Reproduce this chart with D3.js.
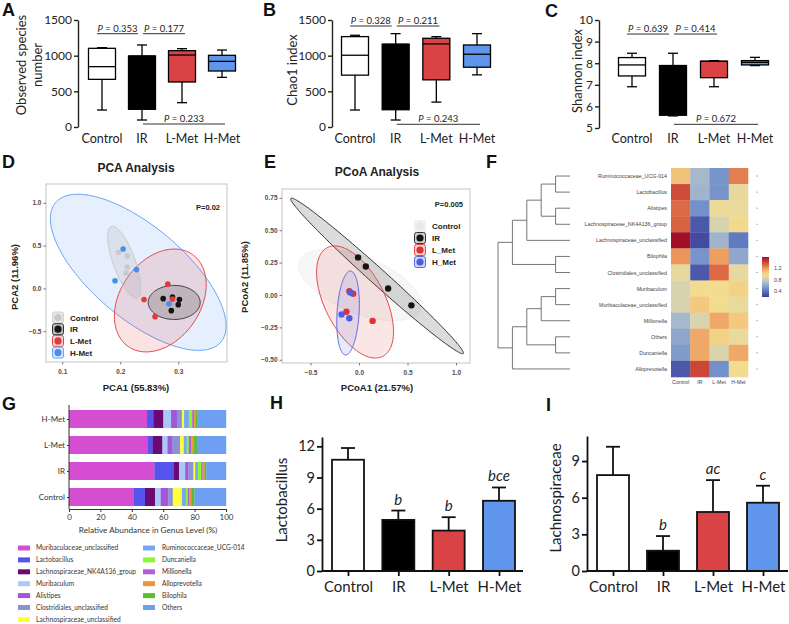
<!DOCTYPE html>
<html><head><meta charset="utf-8">
<script src="https://cdn.jsdelivr.net/npm/d3@7"></script>
<style>body{margin:0;background:#fff} svg text{font-family:Lato, "Open Sans", sans-serif}</style>
</head><body><svg id="c" width="789" height="624"></svg>
<script>
// ---------------- DATA ----------------
const groups = ["Control","IR","L-Met","H-Met"];
const groupFill = ["#ffffff","#000000","#d94345","#5f95ea"];
// box stats: [min, q1, median, q3, max]
const observedBox = [[238,668,846,1103,1112],[98,248,995,995,1150],[341,631,1009,1070,1098],[696,785,920,1005,1079]];
const chao1Box = [[238,727,1006,1267,1286],[98,242,1160,1160,1309],[349,661,1165,1244,1267],[731,838,1020,1150,1309]];
const shannonBox = [[6.91,7.41,7.92,8.26,8.46],[5.56,5.59,7.89,7.89,8.46],[6.91,7.33,8.09,8.09,8.12],[7.89,7.92,8.04,8.12,8.27]];
const observedP = ["0.353","0.177","0.233"];
const chao1P = ["0.328","0.211","0.243"];
const shannonP = ["0.639","0.414","0.672"];
const observedPY = [1308, 42];
const chao1PY = [1416, 38];
const shannonPY = [9.35, 5.17];
const observedTicks = [0,500,1000,1500];
const chao1Ticks = [0,500,1000,1500];
const shannonTicks = [5,6,7,8,9,10];

// PCA
const pcaControl = [[0.197,0.42],[0.212,0.38],[0.212,0.25],[0.21,0.18]];
const pcaIR = [[0.274,-0.12],[0.29,-0.10],[0.302,-0.13],[0.30,-0.19],[0.288,-0.26]];
const pcaLMet = [[0.282,0.05],[0.241,-0.13],[0.29,-0.125],[0.26,-0.33]];
const pcaHMet = [[0.205,0.46],[0.228,0.22],[0.191,0.09],[0.284,-0.18]];
// ellipses: [cx, cy, ux, uy, vx, vy] in data units
const pcaEllipses = [
  {g:"H-Met", e:[0.231,0.188,0.1426,-0.8136,-0.051,-0.4127]},
  {g:"L-Met", e:[0.269,-0.141,0.0553,0.538,0.0566,-0.268]},
  {g:"Control", e:[0.207,0.305,0.0224,-0.4185,-0.0178,-0.0445]},
  {g:"IR", e:[0.293,-0.164,0.0448,0,0,-0.199]}
];
// PCoA
const pcoaIR = [[-0.01,0.29],[0.07,0.22],[0.30,0.05],[0.54,-0.08]];
const pcoaLMet = [[-0.10,0.03],[-0.06,0.01],[-0.13,-0.13],[0.14,-0.20]];
const pcoaHMet = [[-0.09,0.02],[-0.18,-0.15],[-0.10,-0.18]];
const pcoaEllipses = [
  {g:"Control", e:[0.01,0.077,0.622,-0.1875,-0.108,-0.2006]},
  {g:"IR", e:[0.186,0.147,0.889,-0.599,-0.0552,-0.0459]},
  {g:"L-Met", e:[-0.041,-0.054,0.2856,-0.4198,-0.2753,-0.1049]},
  {g:"H-Met", e:[-0.113,-0.139,0.0258,0.324,0.1134,-0.0046]}
];

// Heatmap
const heatRows = ["Ruminococcaceae_UCG-014","Lactobacillus","Alistipes","Lachnospiraceae_NK4A136_group","Lachnospiraceae_unclassified","Bilophila","Clostridiales_unclassified","Muribaculum","Muribaculaceae_unclassified","Millionella","Others","Duncaniella","Alloprevotella"];
const heatValues = [
  [1.07,0.68,0.52,1.25],
  [1.38,0.66,0.52,0.92],
  [1.30,0.50,0.95,0.93],
  [1.32,0.30,0.84,1.00],
  [1.58,0.25,0.66,0.42],
  [1.20,0.52,1.18,0.60],
  [0.92,0.30,1.30,0.92],
  [0.84,0.98,0.98,1.02],
  [0.84,1.05,0.98,0.93],
  [0.68,0.85,1.15,1.05],
  [0.60,1.15,1.02,0.93],
  [0.55,1.15,0.85,1.15],
  [0.30,1.40,0.50,0.98]
];
const heatLegendTicks = [1.2,0.8,0.4];
const heatStops = [0.2,0.48,0.68,0.86,0.99,1.17,1.35,1.58];
const heatColors = ["#3a3d98","#6c8ccb","#a6b9cc","#ddd6ab","#f3dc8e","#efa262","#d4553d","#a20f28"];
// dendrogram: [left, right, height]; leaves are row indices
const dendro = [[[[[0,1,1],[2,3,1],2],4,3],[5,6,1],4],[[[[7,8,1],9,2],[10,11,1],3],12,4],5];

// Stacked genus bars
const genera = ["Muribaculaceae_unclassified","Lactobacillus","Lachnospiraceae_NK4A136_group","Muribaculum","Alistipes","Clostridiales_unclassified","Lachnospiraceae_unclassified","Ruminococcaceae_UCG-014","Duncaniella","Millionella","Alloprevotella","Bilophila","Others"];
const generaColors = ["#d54dd1","#5555ee","#6a0a72","#a9c8f5","#a456d8","#8b93d6","#ffff3a","#76a7f2","#8cf53a","#b060d8","#e8973e","#5cbf2a","#6e9ff2"];
const abundControl = [41.4,7.0,6.4,3.6,4.9,2.8,5.8,2.5,1.3,1.0,1.1,2.1,20.1];
const abundIR = [54.4,12.1,3.6,3.9,2.1,3.2,1.1,1.7,2.1,0.9,1.3,1.0,12.6];
const abundLMet = [50.3,3.0,6.2,3.2,2.8,5.3,2.3,1.9,1.3,1.5,1.5,2.1,18.6];
const abundHMet = [49.7,4.0,6.4,4.9,3.7,3.2,1.4,3.0,2.2,1.2,1.1,1.1,18.1];
const abundTicks = [0,20,40,60,80,100];

// Bars H, I
const lactoMean = [10.71,4.92,3.89,6.76];
const lactoSD = [1.13,0.90,1.29,1.28];
const lactoSig = ["","b","b","bce"];
const lachnoMean = [7.85,1.66,4.83,5.59];
const lachnoSD = [2.32,1.20,2.61,1.39];
const lachnoSig = ["","b","ac","c"];

// ---------------- DRAW ----------------
const svg = d3.select("#c");
svg.append("rect").attr("width",789).attr("height",624).attr("fill","#fff");
const SANS = "'Liberation Sans', Arial, sans-serif";

function letter(t,x,y){
  svg.append("text").attr("x",x).attr("y",y).text(t)
    .style("font-family",SANS).attr("font-weight","bold").attr("font-size",18).attr("fill","#111");
}
letter("A",2,16); letter("B",263,16); letter("C",545,17);
letter("D",2,168); letter("E",264,168); letter("F",486,168);
letter("G",2,410); letter("H",270,409); letter("I",546,411);

function boxPanel(cfg){
  const g = svg.append("g");
  const y = d3.scaleLinear(cfg.domain, cfg.yRange);
  const x = d3.scalePoint(groups, cfg.xRange);
  const bw = 27, cw = 10;
  cfg.data.forEach((d,i)=>{
    const cx = x(groups[i]);
    g.append("line").attr("x1",cx).attr("x2",cx).attr("y1",y(d[0])).attr("y2",y(d[4])).attr("stroke","#000").attr("stroke-width",1.3);
    [d[0],d[4]].forEach(v=>g.append("line").attr("x1",cx-cw/2).attr("x2",cx+cw/2).attr("y1",y(v)).attr("y2",y(v)).attr("stroke","#000").attr("stroke-width",1.3));
    g.append("rect").attr("x",cx-bw/2).attr("width",bw).attr("y",y(d[3])).attr("height",y(d[1])-y(d[3]))
      .attr("fill",groupFill[i]).attr("stroke","#000").attr("stroke-width",1.3);
    g.append("line").attr("x1",cx-bw/2).attr("x2",cx+bw/2).attr("y1",y(d[2])).attr("y2",y(d[2])).attr("stroke","#000").attr("stroke-width",1.3);
    g.append("text").attr("x",cx).attr("y",143).attr("text-anchor","middle").attr("font-size",12.5).attr("fill","#222").text(groups[i]);
  });
  const ax = g.append("g").attr("transform",`translate(${cfg.axisX},0)`)
    .call(d3.axisLeft(y).tickValues(cfg.ticks).tickFormat(d3.format("d")).tickSize(4).tickSizeOuter(0).tickPadding(2));
  ax.select(".domain").attr("stroke","#222").attr("stroke-width",1.4);
  ax.selectAll(".tick line").attr("stroke","#222").attr("stroke-width",1.4);
  ax.selectAll(".tick text").style("font-family","Lato").attr("font-size",12).attr("fill","#222");
  // brackets
  const br = [[x(groups[0])-5, x(groups[1])-4, cfg.pY[0], cfg.p[0]],
              [x(groups[1])+1, x(groups[2])+3, cfg.pY[0], cfg.p[1]],
              [x(groups[1])+1, x(groups[3])+3, cfg.pY[1], cfg.p[2]]];
  br.forEach(b=>{
    g.append("line").attr("x1",b[0]).attr("x2",b[1]).attr("y1",y(b[2])).attr("y2",y(b[2])).attr("stroke","#333").attr("stroke-width",1);
    const t = g.append("text").attr("x",(b[0]+b[1])/2).attr("y",y(b[2])-2).attr("text-anchor","middle").attr("font-size",9.5).attr("fill","#222");
    t.append("tspan").attr("font-style","italic").text("P");
    t.append("tspan").text(" = "+b[3]);
  });
  cfg.ylabel.forEach((l,k)=>{
    g.append("text").attr("transform",`translate(${cfg.ylabelX[k]},${cfg.ylabelY}) rotate(-90)`)
      .attr("text-anchor","middle").attr("font-size",13).attr("fill","#222").text(l);
  });
}
boxPanel({data:observedBox, domain:[0,1500], yRange:[127,20], xRange:[102,222], axisX:78, ticks:observedTicks,
  p:observedP, pY:observedPY, ylabel:["Observed species","number"], ylabelX:[26,42], ylabelY:65});
boxPanel({data:chao1Box, domain:[0,1500], yRange:[127,20], xRange:[355,477], axisX:332, ticks:chao1Ticks,
  p:chao1P, pY:chao1PY, ylabel:["Chao1 index"], ylabelX:[297], ylabelY:70});
boxPanel({data:shannonBox, domain:[5,10], yRange:[128,20], xRange:[632,755], axisX:599, ticks:shannonTicks,
  p:shannonP, pY:shannonPY, ylabel:["Shannon index"], ylabelX:[582], ylabelY:71});

// ---- ordination panels ----
function ordPanel(cfg){
  const g = svg.append("g");
  const x = d3.scaleLinear(cfg.xDomain,[cfg.left,cfg.right]);
  const y = d3.scaleLinear(cfg.yDomain,[cfg.bottom,cfg.top]);
  const cid = "clip"+cfg.id;
  g.append("clipPath").attr("id",cid).append("rect").attr("x",cfg.left).attr("y",cfg.top).attr("width",cfg.right-cfg.left).attr("height",cfg.bottom-cfg.top);
  g.append("rect").attr("x",cfg.left).attr("y",cfg.top).attr("width",cfg.right-cfg.left).attr("height",cfg.bottom-cfg.top)
    .attr("fill","#fff").attr("stroke","#c4c4c4").attr("stroke-width",1);
  const inner = g.append("g").attr("clip-path",`url(#${cid})`);
  const line = d3.line().curve(d3.curveLinearClosed);
  cfg.ellipses.forEach(el=>{
    const [cx,cy,ux,uy,vx,vy] = el.e;
    const pts = d3.range(0,Math.PI*2,Math.PI/90).map(t=>[x(cx+Math.cos(t)*ux+Math.sin(t)*vx), y(cy+Math.cos(t)*uy+Math.sin(t)*vy)]);
    const st = cfg.style[el.g];
    inner.append("path").attr("d",line(pts)).attr("fill",st.fill).attr("stroke",st.stroke).attr("stroke-width",1);
  });
  cfg.points.forEach(p=>{
    p.data.forEach(d=>inner.append("circle").attr("cx",x(d[0])).attr("cy",y(d[1])).attr("r",cfg.r).attr("fill",cfg.style[p.g].dot));
  });
  const ay = g.append("g").attr("transform",`translate(${cfg.left},0)`).call(d3.axisLeft(y).tickValues(cfg.yTicks).tickFormat(d3.format(cfg.yFmt)).tickSize(2.5).tickPadding(2));
  const ax = g.append("g").attr("transform",`translate(0,${cfg.bottom})`).call(d3.axisBottom(x).tickValues(cfg.xTicks).tickFormat(d3.format(cfg.xFmt)).tickSize(2.5).tickPadding(5));
  [ax,ay].forEach(a=>{
    a.select(".domain").remove();
    a.selectAll(".tick line").attr("stroke","#777");
    a.selectAll(".tick text").style("font-family",SANS).attr("font-weight","bold").attr("font-size",6.5).attr("fill","#4d4d4d");
  });
  g.append("text").attr("x",cfg.titleX).attr("y",cfg.titleY).attr("text-anchor","middle").style("font-family",SANS)
    .attr("font-weight","bold").attr("font-size",12).attr("fill","#222").text(cfg.title);
  g.append("text").attr("x",cfg.titleX).attr("y",cfg.xLabY).attr("text-anchor","middle").style("font-family",SANS)
    .attr("font-weight","bold").attr("font-size",9.5).attr("fill","#222").text(cfg.xLab);
  g.append("text").attr("transform",`translate(${cfg.yLabX},${cfg.yLabY}) rotate(-90)`).attr("text-anchor","middle").style("font-family",SANS)
    .attr("font-weight","bold").attr("font-size",9.5).attr("fill","#222").text(cfg.yLab);
  g.append("text").attr("x",cfg.pX).attr("y",cfg.pYp).attr("text-anchor","end").style("font-family",SANS)
    .attr("font-weight","bold").attr("font-size",7.5).attr("fill","#222").text(cfg.pText);
  // legend
  cfg.legend.forEach((l,i)=>{
    const yy = cfg.legY + i*cfg.legStep;
    const st = cfg.style[l.g];
    g.append("rect").attr("x",cfg.legX-5.5).attr("y",yy-5.5).attr("width",11).attr("height",11).attr("rx",2)
      .attr("fill",st.keyFill).attr("stroke",st.keyStroke).attr("stroke-width",1);
    g.append("circle").attr("cx",cfg.legX).attr("cy",yy).attr("r",3.6).attr("fill",st.dot);
    g.append("text").attr("x",cfg.legX+12).attr("y",yy+3).style("font-family",SANS).attr("font-weight","bold")
      .attr("font-size",8).attr("fill","#222").text(l.t);
  });
}
ordPanel({id:"D", xDomain:[0.072,0.384], yDomain:[-0.86,1.22], left:46, right:227, top:184, bottom:362, r:2.8,
  ellipses:pcaEllipses,
  points:[{g:"Control",data:pcaControl},{g:"IR",data:pcaIR},{g:"L-Met",data:pcaLMet},{g:"H-Met",data:pcaHMet}],
  style:{
    "Control":{fill:"rgba(160,160,160,0.18)",stroke:"#c8c8c8",dot:"#c9c9c9",keyFill:"#e6e6e6",keyStroke:"#d0d0d0"},
    "IR":{fill:"rgba(80,80,80,0.25)",stroke:"#333",dot:"#141414",keyFill:"#bdbdbd",keyStroke:"#333"},
    "L-Met":{fill:"rgba(225,60,60,0.14)",stroke:"#e0474b",dot:"#e03a3a",keyFill:"#f6d3d3",keyStroke:"#e0474b"},
    "H-Met":{fill:"rgba(90,150,240,0.15)",stroke:"#6aa3f5",dot:"#4a8cf0",keyFill:"#d4e4fb",keyStroke:"#6aa3f5"}},
  yTicks:[-0.5,0,0.5,1.0], yFmt:".1f", xTicks:[0.1,0.2,0.3], xFmt:".1f",
  title:"PCA Analysis", titleX:136, titleY:172, xLab:"PCA1 (55.83%)", xLabY:391, yLab:"PCA2 (11.96%)", yLabX:18, yLabY:277,
  pText:"P=0.02", pX:220, pYp:210,
  legend:[{g:"Control",t:"Control"},{g:"IR",t:"IR"},{g:"L-Met",t:"L-Met"},{g:"H-Met",t:"H-Met"}], legX:58, legY:317.5, legStep:11.7});
ordPanel({id:"E", xDomain:[-0.794,1.144], yDomain:[-0.525,0.818], left:282, right:470, top:189, bottom:363, r:3.2,
  ellipses:pcoaEllipses,
  points:[{g:"IR",data:pcoaIR},{g:"L-Met",data:pcoaLMet},{g:"H-Met",data:pcoaHMet}],
  style:{
    "Control":{fill:"rgba(200,200,200,0.15)",stroke:"#f0f0f0",dot:"#e8e8e8",keyFill:"#f0f0f0",keyStroke:"#f0f0f0"},
    "IR":{fill:"rgba(90,90,90,0.22)",stroke:"#333",dot:"#141414",keyFill:"#cfcfcf",keyStroke:"#333"},
    "L-Met":{fill:"rgba(225,60,60,0.13)",stroke:"#e0474b",dot:"#e03232",keyFill:"#f6d0d0",keyStroke:"#e0474b"},
    "H-Met":{fill:"rgba(80,95,225,0.13)",stroke:"#5868e0",dot:"#4c5ee0",keyFill:"#d2d6f7",keyStroke:"#5868e0"}},
  yTicks:[-0.5,-0.25,0,0.25,0.5,0.75], yFmt:".2f", xTicks:[-0.5,0,0.5,1.0], xFmt:".1f",
  title:"PCoA Analysis", titleX:377, titleY:176, xLab:"PCoA1 (21.57%)", xLabY:391, yLab:"PCoA2 (11.85%)", yLabX:248, yLabY:277,
  pText:"P=0.005", pX:463, pYp:207,
  legend:[{g:"Control",t:"Control"},{g:"IR",t:"IR"},{g:"L-Met",t:"L_Met"},{g:"H-Met",t:"H_Met"}], legX:420, legY:226, legStep:12});

// ---- heatmap F ----
(function(){
  const g = svg.append("g");
  const ry = d3.scaleBand(heatRows,[168,377]);
  const cx = d3.scaleBand(groups,[671,748]);
  const lo = heatStops[0], hi = heatStops[heatStops.length-1];
  const col = d3.scaleLinear(heatStops, heatColors).clamp(true);
  heatRows.forEach((r,i)=>{
    groups.forEach((c,j)=>{
      g.append("rect").attr("x",cx(c)).attr("y",ry(r)).attr("width",cx.bandwidth()+0.3).attr("height",ry.bandwidth()+0.3).attr("fill",col(heatValues[i][j]));
    });
    g.append("text").attr("x",667).attr("y",ry(r)+ry.bandwidth()/2+2).attr("text-anchor","end").style("font-family",SANS)
      .attr("font-size",5.3).attr("fill","#444").text(r);
    g.append("line").attr("x1",756).attr("x2",758).attr("y1",ry(r)+ry.bandwidth()/2).attr("y2",ry(r)+ry.bandwidth()/2).attr("stroke","#888").attr("stroke-width",0.6);
  });
  groups.forEach(c=>g.append("text").attr("x",cx(c)+cx.bandwidth()/2).attr("y",384).attr("text-anchor","middle").style("font-family",SANS)
    .attr("font-size",5.3).attr("fill","#444").text(c));
  // dendrogram
  const hx = d3.scaleLinear([0,5],[570,498]);
  function walk(n){
    if(typeof n === "number") return {y: ry(heatRows[n])+ry.bandwidth()/2, x: hx(0)};
    const a = walk(n[0]), b = walk(n[1]), xx = hx(n[2]);
    g.append("line").attr("x1",xx).attr("x2",xx).attr("y1",a.y).attr("y2",b.y).attr("stroke","#666").attr("stroke-width",0.9);
    [a,b].forEach(c=>g.append("line").attr("x1",xx).attr("x2",c.x).attr("y1",c.y).attr("y2",c.y).attr("stroke","#666").attr("stroke-width",0.9));
    return {y:(a.y+b.y)/2, x:xx};
  }
  walk(dendro);
  // legend
  const ly = d3.scaleLinear([lo,hi],[297,257]);
  const defs = svg.append("defs");
  const grad = defs.append("linearGradient").attr("id","hg").attr("x1",0).attr("x2",0).attr("y1",1).attr("y2",0);
  d3.range(0,1.0001,0.05).forEach(t=>grad.append("stop").attr("offset",t).attr("stop-color",col(lo+t*(hi-lo))));
  g.append("rect").attr("x",762).attr("y",ly(hi)).attr("width",7).attr("height",ly(lo)-ly(hi)).attr("fill","url(#hg)");
  heatLegendTicks.forEach(v=>{
    g.append("text").attr("x",774).attr("y",ly(v)+2).style("font-family",SANS).attr("font-size",5.5).attr("fill","#444").text(v.toFixed(1));
  });
})();

// ---- stacked G ----
(function(){
  const g = svg.append("g");
  const x = d3.scaleLinear([0,100],[69,226]);
  const y = d3.scalePoint(groups,[497,419]);
  const rows = [abundControl, abundIR, abundLMet, abundHMet];
  rows.forEach((vals,i)=>{
    let acc = 0;
    vals.forEach((v,k)=>{
      g.append("rect").attr("x",x(acc)).attr("width",x(acc+v)-x(acc)+0.2).attr("y",y(groups[i])-9).attr("height",18).attr("fill",generaColors[k]);
      acc += v;
    });
  });
  const ax = g.append("g").attr("transform","translate(0,509)").call(d3.axisBottom(x).tickValues(abundTicks).tickSize(3).tickSizeOuter(0).tickPadding(2));
  const ay = g.append("g").attr("transform","translate(69,0)").call(d3.axisLeft(y).tickSize(2).tickSizeOuter(0).tickPadding(2));
  ay.select(".domain").attr("d","M0,405V509");
  [ax,ay].forEach(a=>{
    a.select(".domain").attr("stroke","#333").attr("stroke-width",1);
    a.selectAll(".tick line").attr("stroke","#333");
    a.selectAll(".tick text").style("font-family","Lato").attr("font-size",8).attr("fill","#333");
  });
  g.append("text").attr("x",148).attr("y",533).attr("text-anchor","middle").attr("font-size",8.2).attr("fill","#333")
    .text("Relative Abundance in Genus  Level (%)");
  genera.forEach((n,k)=>{
    const colI = k < 7 ? 0 : 1, row = k < 7 ? k : k-7;
    const sx = colI ? 143 : 18, tx = colI ? 162 : 36, yy = 548 + row*11.9;
    g.append("rect").attr("x",sx).attr("y",yy-2.5).attr("width",12).attr("height",5).attr("fill",generaColors[k]);
    g.append("text").attr("x",tx).attr("y",yy+2.3).attr("font-size",6.6).attr("fill","#333").text(n);
  });
})();

// ---- bar panels H, I ----
function barPanel(cfg){
  const g = svg.append("g");
  const y = d3.scaleLinear([0,cfg.top],[571,cfg.topPx]);
  const x = d3.scalePoint(groups,cfg.xRange);
  const bw = 32;
  cfg.mean.forEach((m,i)=>{
    const cx = x(groups[i]), top = m + cfg.sd[i];
    g.append("line").attr("x1",cx).attr("x2",cx).attr("y1",y(m)).attr("y2",y(top)).attr("stroke","#111").attr("stroke-width",1.8);
    g.append("line").attr("x1",cx-7).attr("x2",cx+7).attr("y1",y(top)).attr("y2",y(top)).attr("stroke","#111").attr("stroke-width",1.8);
    g.append("rect").attr("x",cx-bw/2).attr("width",bw).attr("y",y(m)).attr("height",y(0)-y(m))
      .attr("fill",groupFill[i]).attr("stroke","#111").attr("stroke-width",1.8);
    if(cfg.sig[i]) g.append("text").attr("x",cx).attr("y",y(top)-6).attr("text-anchor","middle").attr("font-style","italic")
      .attr("font-size",15).attr("fill","#222").text(cfg.sig[i]);
  });
  const ay = g.append("g").attr("transform",`translate(${cfg.axisX},0)`).call(d3.axisLeft(y).tickValues(cfg.ticks).tickSize(5).tickSizeOuter(0).tickPadding(2));
  const ax = g.append("g").attr("transform","translate(0,571)").call(d3.axisBottom(x).tickSize(5).tickSizeOuter(0).tickPadding(5));
  ax.select(".domain").attr("d",`M${cfg.axisX},0H${cfg.xEnd}`);
  [ax,ay].forEach(a=>{
    a.select(".domain").attr("stroke","#111").attr("stroke-width",1.8);
    a.selectAll(".tick line").attr("stroke","#111").attr("stroke-width",1.8);
    a.selectAll(".tick text").style("font-family","Lato").attr("font-size",15).attr("fill","#222");
  });
  ay.selectAll(".tick text").attr("font-size",14.5);
  g.append("text").attr("transform",`translate(${cfg.labX},${cfg.labY}) rotate(-90)`).attr("text-anchor","middle")
    .attr("font-size",15).attr("fill","#222").text(cfg.label);
}
barPanel({mean:lactoMean, sd:lactoSD, sig:lactoSig, top:12.9, topPx:437, xRange:[348,499], axisX:322, xEnd:523,
  ticks:[0,3,6,9,12], label:"Lactobacillus", labX:287, labY:500});
barPanel({mean:lachnoMean, sd:lachnoSD, sig:lachnoSig, top:11.05, topPx:436, xRange:[613,763], axisX:587, xEnd:788,
  ticks:[0,3,6,9], label:"Lachnospiraceae", labX:561, labY:498});
</script></body></html>
